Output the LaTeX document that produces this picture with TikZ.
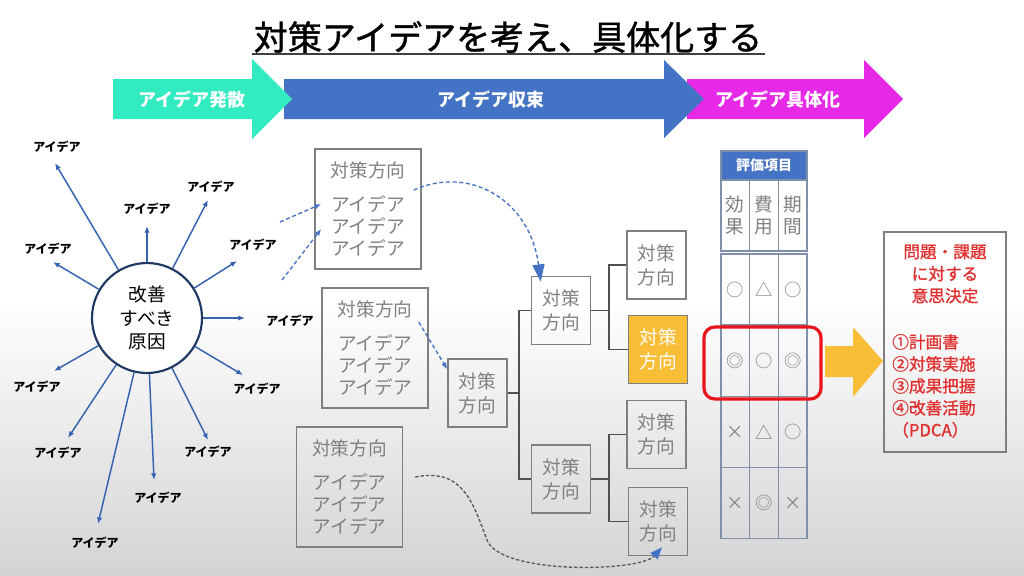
\documentclass[tikz,border=0pt]{standalone}
\usepackage{fontspec}
\setmainfont{Noto Sans CJK JP}
\newfontfamily\jpmed[FakeBold=1.2]{Noto Sans CJK JP}
\usetikzlibrary{arrows.meta,calc}
\definecolor{cyanA}{HTML}{33EBC0}
\definecolor{blueA}{HTML}{4472C4}
\definecolor{magA}{HTML}{E529E6}
\definecolor{orangeA}{HTML}{F9BE38}
\definecolor{navyA}{HTML}{203864}
\definecolor{radblue}{HTML}{3563B0}
\definecolor{boxgray}{HTML}{7F7F7F}
\definecolor{txtgray}{HTML}{808080}
\definecolor{treeline}{HTML}{505050}
\definecolor{tblgray}{HTML}{8090A8}
\definecolor{redA}{HTML}{E8141C}
\definecolor{redtxt}{HTML}{E03030}
\newcommand\fsz[2]{\fontsize{#1}{#2}\selectfont}
\begin{document}
\begin{tikzpicture}[x=0.75pt,y=-0.75pt,
  idea/.style={font=\bfseries\fsz{9}{11}, text=black, inner sep=0},
  radial/.style={draw=radblue, line width=1.1pt, -{Latex[length=5pt,width=4pt]}},
  hdrtext/.style={font=\bfseries\fsz{13.5}{16}, text=white, inner sep=0},
  ibox/.style={draw=boxgray, line width=1.1pt, text=txtgray, align=center,
    minimum width=79.5pt, minimum height=90pt, font=\fsz{14}{16.5}, inner sep=0},
  tbox/.style={draw=boxgray, line width=1.1pt, text=txtgray, align=center,
    minimum width=44.25pt, minimum height=51pt, font=\fsz{14}{18}, inner sep=0},
  tline/.style={draw=treeline, line width=1.1pt},
  bdash/.style={draw=blueA, line width=1pt, dash pattern=on 3pt off 2pt},
  cell/.style={draw=tblgray, line width=0.9pt, text=txtgray, inner sep=0,
    minimum width=21.5pt, minimum height=53.25pt, font=\fsz{14}{16}, align=center},
  sym/.style={cell, font=\fsz{13}{16}},
]
% background
\useasboundingbox (0,0) rectangle (1024,575);
\fill[white] (0,0) rectangle (1024,575);
\shade[top color=white, bottom color=black!17] (0,300) rectangle (1024,575);

% title
\node[font=\jpmed\fsz{25.5}{30}, text=black, inner sep=0] (title) at (508,37) {対策アイデアを考え、具体化する};
\draw[black!75, line width=2.2pt] (252,54) -- (765,54);

% header arrows
\fill[magA] (687,79) -- (864,79) -- (864,60) -- (903,99) -- (864,138) -- (864,119) -- (687,119) -- cycle;
\fill[blueA] (284,79) -- (664,79) -- (664,60) -- (704,99) -- (664,138) -- (664,119) -- (284,119) -- cycle;
\fill[cyanA] (113,79) -- (252,79) -- (252,59) -- (292,99) -- (252,139) -- (252,119) -- (113,119) -- cycle;
\node[hdrtext] (h1) at (192,99) {アイデア発散};
\node[hdrtext] (h2) at (491,99) {アイデア収束};
\node[hdrtext] (h3) at (778,99) {アイデア具体化};

% cause circle
\node[circle, draw=navyA, line width=1.6pt, fill=white, minimum size=82.5pt, inner sep=0,
  align=center, font=\fsz{14}{17.6}] (cause) at (147,318) {改善\\すべき\\原因};

% idea labels
\node[idea] (i1) at (57,147) {アイデア};
\node[idea] (i2) at (147,209) {アイデア};
\node[idea] (i3) at (211,187) {アイデア};
\node[idea] (i4) at (253,245) {アイデア};
\node[idea] (i5) at (290,321) {アイデア};
\node[idea] (i6) at (257,389) {アイデア};
\node[idea] (i7) at (208,452) {アイデア};
\node[idea] (i8) at (158,498) {アイデア};
\node[idea] (i9) at (95,543) {アイデア};
\node[idea] (i10) at (58,453) {アイデア};
\node[idea] (i11) at (37,387) {アイデア};
\node[idea] (i12) at (48,249) {アイデア};
% arrow tips
\coordinate (p1) at (55,163);
\coordinate (p2) at (147,226);
\coordinate (p3) at (208,200);
\coordinate (p4) at (237,261);
\coordinate (p5) at (245,318);
\coordinate (p6) at (243,375);
\coordinate (p7) at (208,440);
\coordinate (p8) at (154,480);
\coordinate (p9) at (98,524);
\coordinate (p10) at (68,438);
\coordinate (p11) at (54,371);
\coordinate (p12) at (53,262);
\foreach \k in {1,...,12} { \draw[radial] (cause) -- (p\k); }

% idea boxes
\node[ibox] (boxA) at (368,209) {対策方向\\[9pt]アイデア\\アイデア\\アイデア};
\node[ibox] (boxB) at (375,348) {対策方向\\[9pt]アイデア\\アイデア\\アイデア};
\node[ibox] (boxC) at (349.5,487) {対策方向\\[9pt]アイデア\\アイデア\\アイデア};

% tree
\node[tbox] (t1) at (477.5,393) {対策\\方向};
\node[tbox] (t2) at (561,310.5) {対策\\方向};
\node[tbox] (t3) at (561,479) {対策\\方向};
\node[tbox] (l1) at (656.5,265) {対策\\方向};
\node[tbox, fill=orangeA, text=white] (l2) at (658,349.5) {対策\\方向};
\node[tbox] (l3) at (656.5,434.5) {対策\\方向};
\node[tbox] (l4) at (658,521.5) {対策\\方向};
\coordinate (j1) at (519,393);
\coordinate (j2) at (609,310.5);
\coordinate (j3) at (609,479);
\draw[tline] (t1.east) -- (j1);
\draw[tline] (j1) |- (t2.west);
\draw[tline] (j1) |- (t3.west);
\draw[tline] (t2.east) -- (j2);
\draw[tline] (j2) |- (l1.west);
\draw[tline] (j2) |- (l2.west);
\draw[tline] (t3.east) -- (j3);
\draw[tline] (j3) |- (l3.west);
\draw[tline] (j3) |- (l4.west);

% dashed arrows
\coordinate (d1) at (280,222);
\coordinate (d2) at (282,280);
\draw[bdash, -{Latex[length=5pt,width=4pt]}] (d1) -- ($(boxA.west)+(7,-5)$);
\draw[bdash, -{Latex[length=5pt,width=4pt]}] (d2) -- ($(boxA.west)+(7,20)$);
\draw[bdash, -{Triangle[length=13pt,width=9pt]}] ($(boxA.east)+(-8,-19)$)
  .. controls (470,165) and (530,200) .. ($(t2.north west)+(10,6)$);
\draw[bdash, -{Latex[length=5pt,width=4pt]}] ($(boxB.east)+(-10,-26)$) -- ($(t1.north west)+(0,11)$);
\draw[draw=black!65, line width=1pt, dash pattern=on 2.5pt off 1.5pt,
  -{Triangle[length=9pt,width=7pt,color=blueA]}] ($(boxC.east)+(12,-10)$)
  .. controls (462,468) and (472,500) .. (487,540)
  .. controls (500,575) and (640,572) .. ($(l4.south)+(4,-9)$);

% evaluation table
\node[draw=tblgray, fill=blueA, line width=0.9pt, text=white, font=\bfseries\fsz{10.5}{12},
  minimum width=64.5pt, minimum height=21.75pt, inner sep=0] (hdr) at (764,165.5) {評価項目};
\node[cell] (c1) at (735.3,215.5) {効\\果};
\node[cell] (c2) at (764,215.5) {費\\用};
\node[cell] (c3) at (792.7,215.5) {期\\間};
\node[sym] (r11) at (735.3,289.5) {○};
\node[sym] (r12) at (764,289.5) {△};
\node[sym] (r13) at (792.7,289.5) {○};
\node[sym] (r21) at (735.3,361) {◎};
\node[sym] (r22) at (764,361) {○};
\node[sym] (r23) at (792.7,361) {◎};
\node[sym] (r31) at (735.3,432) {×};
\node[sym] (r32) at (764,432) {△};
\node[sym] (r33) at (792.7,432) {○};
\node[sym] (r41) at (735.3,503) {×};
\node[sym] (r42) at (764,503) {◎};
\node[sym] (r43) at (792.7,503) {×};
\node[draw=redA, line width=2.4pt, rounded corners=8pt, minimum width=87.75pt,
  minimum height=54pt, inner sep=0] (sel) at (762.5,363) {};

% orange arrow
\fill[orangeA] (825,346) -- (853,346) -- (853,327) -- (883,361) -- (853,397) -- (853,377) -- (825,377) -- cycle;

% decision box
\node[draw=boxgray, line width=1.1pt, minimum width=91.5pt, minimum height=165pt, inner sep=0] (dec) at (945,342) {};
\node[text=redtxt, align=center, font=\jpmed\fsz{12.5}{16.5}, inner sep=0] (dq) at (945,274) {問題・課題\\に対する\\意思決定};
\node[text=redtxt, align=left, font=\jpmed\fsz{12.5}{16.5}, inner sep=0, anchor=west] (plan) at (892,386) {①計画書\\②対策実施\\③成果把握\\④改善活動\\（PDCA）};
\end{tikzpicture}
\end{document}
